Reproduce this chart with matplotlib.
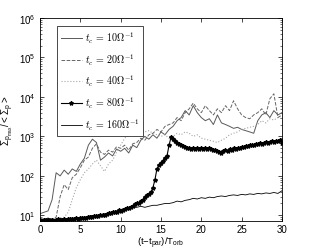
import numpy as np
import matplotlib
matplotlib.use('Agg')
import matplotlib.pyplot as plt

plt.rcParams['font.family'] = ['Liberation Sans', 'DejaVu Sans']
plt.rcParams['mathtext.fontset'] = 'custom'
plt.rcParams['mathtext.rm'] = 'Liberation Sans'
plt.rcParams['mathtext.it'] = 'Liberation Sans:italic'

# time in orbits, step 0.5
t = np.arange(0, 30.01, 0.5)
# tc=80 run read at finer step
t80 = np.arange(0, 30.01, 0.25)

tc10 = [11, 12, 13, 25, 120, 100, 140, 110, 150, 130,
        200, 280, 600, 850, 700, 250, 300, 380, 320, 480,
        420, 500, 380, 600, 520, 800, 1000, 850, 1100, 900,
        1300, 1100, 1500, 1800, 2500, 3000, 4500, 3500, 6000, 4000,
        3000, 2500, 2800, 2000, 3500, 2200, 2000, 1800, 1600, 1700,
        1500, 1400, 1300, 1200, 2500, 3500, 4000, 3000, 4500, 3500,
        4000]
tc20 = [8, 8, 8.5, 8, 9, 30, 60, 45, 90, 110,
        160, 250, 300, 500, 650, 400, 350, 450, 400, 550,
        500, 600, 450, 650, 700, 900, 800, 1100, 1200, 1500,
        1300, 1800, 2000, 2200, 3000, 2500, 4000, 5000, 7000, 5000,
        4000, 6000, 4500, 3500, 5000, 4000, 6000, 4500, 8000, 5000,
        3500, 3000, 2800, 3500, 4000, 5000, 3500, 9000, 12000, 3000,
        3500]
tc40 = [8, 8, 8, 8, 8, 8.5, 9, 12, 25, 50,
        80, 120, 150, 200, 250, 180, 130, 200, 250, 400,
        600, 900, 1100, 1300, 1400, 1500, 1300, 1400, 1200, 1100,
        1000, 1100, 900, 1000, 1200, 1100, 1300, 1200, 1000, 1100,
        900, 850, 800, 750, 700, 800, 900, 1100, 1200, 1300,
        1500, 1600, 1700, 1800, 2000, 2500, 2200, 2800, 2600, 3000,
        2800]
tc80 = [7.5, 7, 7.5, 7.2, 7.6, 7.3, 7.8, 7.4, 7.6, 7.9,
        7.5, 7.8, 8, 7.7, 8.1, 7.9, 8.2, 8.0, 8.4, 8.3, 8.6,
        8.5, 8.8, 8.7, 9.0, 9.2, 9.0, 9.5, 9.8, 9.6, 10.2,
        10.5, 10.3, 11, 11.5, 11.2, 12, 12.5, 12.2, 13.5, 13,
        14, 14.5, 15.5, 15, 16.5, 17.5, 19, 20, 21, 23,
        25, 30, 32, 34, 38, 50, 80, 150, 190, 210,
        240, 280, 320, 600, 950, 850, 780, 700, 640, 600,
        560, 530, 500, 520, 480, 500, 470, 500, 480, 510,
        490, 520, 470, 500, 480, 460, 440, 420, 400, 380,
        420, 440, 430, 470, 460, 500, 480, 520, 510, 550,
        530, 580, 560, 600, 620, 590, 650, 630, 680, 660,
        700, 720, 690, 740, 760, 720, 780, 750, 800, 700]
tc160 = [8, 8, 8.5, 8, 8, 8.5, 8, 8.5, 8.5, 8.5,
         9, 9, 9.5, 10, 10, 10.5, 11, 11, 12, 13,
         14, 15, 15, 16, 16, 17, 16, 17, 18, 18,
         19, 20, 20, 21, 23, 22, 24, 25, 27, 26,
         28, 27, 29, 28, 30, 31, 30, 32, 33, 32,
         34, 33, 35, 34, 36, 35, 37, 36, 38, 36,
         42]

labels = [r'$t_c\,=\,10\Omega^{-1}$', r'$t_c\,=\,20\Omega^{-1}$',
          r'$t_c\,=\,40\Omega^{-1}$', r'$t_c\,=\,80\Omega^{-1}$',
          r'$t_c\,=\,160\Omega^{-1}$']

fig = plt.figure(figsize=(3.11, 2.51), dpi=100)
ax = fig.add_axes([0.1286, 0.1155, 0.778, 0.809])

ax.semilogy(t, tc10, '-', color='0.35', lw=0.7, label=labels[0])
ax.semilogy(t, tc20, '--', color='0.4', lw=0.7, label=labels[1])
ax.semilogy(t, tc40, ':', color='0.65', lw=0.8, label=labels[2])
ax.semilogy(t80, tc80, '-*', color='black', lw=0.8, ms=3, label=labels[3])
ax.semilogy(t, tc160, '-', color='black', lw=0.6, label=labels[4])

ax.set_xlim(0, 30)
ax.set_ylim(7.2, 1e6)
ax.set_xticks(np.arange(0, 31, 5))
ax.set_yticks([1e1, 1e2, 1e3, 1e4, 1e5, 1e6])
ax.tick_params(which='both', direction='in', top=True, right=True, labelsize=7)
ax.tick_params(which='major', length=3, width=0.5)
ax.tick_params(which='minor', length=1.5, width=0.4)
ax.tick_params(axis='x', pad=2.5)
for s in ax.spines.values():
    s.set_linewidth(0.6)

ax.set_xlabel(r'(t$-$t$_{\rm par}$)/T$_{\rm orb}$', fontsize=6.8, labelpad=0)
ax.set_ylabel(r'$\Sigma_{\rm p_{max}}/<\Sigma_{\rm p}>$', fontsize=7, labelpad=2)

leg = ax.legend(loc='upper left', bbox_to_anchor=(0.07, 0.96), borderaxespad=0,
                fancybox=False, edgecolor='black', framealpha=1, fontsize=7.2,
                handlelength=2.1, handletextpad=0.3, labelspacing=0.65)
leg.get_frame().set_linewidth(0.5)
for txt in leg.get_texts():
    txt.set_math_fontfamily('cm')

fig.savefig('out.png', dpi=100)
